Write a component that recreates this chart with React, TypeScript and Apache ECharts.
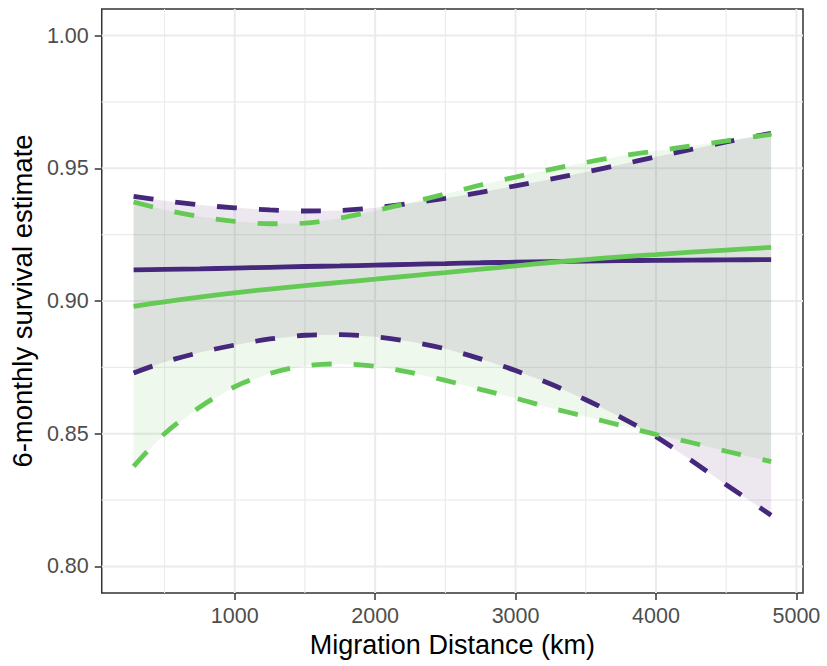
import React, { useEffect, useRef } from "react";
import * as echarts from "echarts";

// Migration distance (km) sample points
const DIST = [280, 500, 750, 1000, 1250, 1500, 1750, 2000, 2250, 2500, 2750, 3000, 3250, 3500, 3750, 4000, 4250, 4500, 4820];

// Purple group
const PURPLE_MEAN = [0.9117, 0.9119, 0.9121, 0.9124, 0.9127, 0.913, 0.9132, 0.9135, 0.9138, 0.9141, 0.9144, 0.9146, 0.9148, 0.915, 0.9152, 0.9153, 0.9154, 0.9155, 0.9156];
const PURPLE_UPPER = [0.9394, 0.9378, 0.9362, 0.9351, 0.9343, 0.9339, 0.9341, 0.9351, 0.9368, 0.9387, 0.9409, 0.9434, 0.9459, 0.9486, 0.9514, 0.9543, 0.9571, 0.9599, 0.9632];
const PURPLE_LOWER = [0.8729, 0.877, 0.8806, 0.8834, 0.8857, 0.8871, 0.8873, 0.8865, 0.8847, 0.882, 0.8782, 0.8738, 0.8687, 0.8628, 0.8562, 0.8489, 0.84, 0.8308, 0.8193];

// Green group
const GREEN_MEAN = [0.898, 0.8997, 0.9015, 0.9031, 0.9045, 0.9058, 0.907, 0.9082, 0.9095, 0.9107, 0.912, 0.9132, 0.9145, 0.9156, 0.9166, 0.9175, 0.9184, 0.9192, 0.9202];
const GREEN_UPPER = [0.9373, 0.9344, 0.9318, 0.93, 0.9291, 0.9293, 0.9312, 0.934, 0.9371, 0.9403, 0.9437, 0.9467, 0.9496, 0.9522, 0.9546, 0.9565, 0.9584, 0.9603, 0.9628];
const GREEN_LOWER = [0.8377, 0.85, 0.86, 0.8677, 0.8727, 0.8756, 0.8763, 0.8754, 0.8731, 0.8701, 0.8667, 0.8634, 0.8597, 0.8565, 0.8531, 0.8497, 0.8467, 0.8434, 0.8395];

// Axes
const X_MIN = 53;
const X_MAX = 5047;
const Y_MIN = 0.79;
const Y_MAX = 1.01;
const X_TICKS = [1000, 2000, 3000, 4000, 5000];
const X_MINOR = [500, 1500, 2500, 3500, 4500];
const Y_TICKS = [0.8, 0.85, 0.9, 0.95, 1.0];
const Y_MINOR = [0.825, 0.875, 0.925, 0.975];

const PURPLE = "#45277B";
const GREEN = "#64CA55";
const FONT = "Liberation Sans, Arial, Helvetica, sans-serif";

export default function App() {
  const ref = useRef<HTMLDivElement>(null);

  useEffect(() => {
    if (!ref.current) return;
    const chart = echarts.init(ref.current, null, { renderer: "svg" });

    const pairs = (ys: number[]) => DIST.map((x, i) => [x, ys[i]]);

    const vGrid = [
      ...X_TICKS.map((v) => [v, Y_MIN, 1]),
      ...X_MINOR.map((v) => [v, Y_MIN, 0]),
    ];
    const hGrid = [
      ...Y_TICKS.map((v) => [X_MIN, v, 1]),
      ...Y_MINOR.map((v) => [X_MIN, v, 0]),
    ];

    const ribbon = (lo: number[], hi: number[], fill: string, z: number) => ({
      type: "custom" as const,
      z,
      silent: true,
      data: DIST.map((x, i) => [x, lo[i], hi[i]]),
      renderItem: (params: any, api: any) => {
        if (params.dataIndex !== 0) return null;
        const pts: number[][] = [];
        for (let i = 0; i < DIST.length; i++) pts.push(api.coord([DIST[i], hi[i]]));
        for (let i = DIST.length - 1; i >= 0; i--) pts.push(api.coord([DIST[i], lo[i]]));
        return {
          type: "polygon",
          shape: { points: pts },
          style: { fill, stroke: "none" },
        };
      },
    });

    const dashed = (data: number[], color: string, z: number) => ({
      type: "line" as const,
      data: pairs(data),
      symbol: "none",
      smooth: 0.3,
      z,
      lineStyle: { color, width: 4.8, type: [20, 22], cap: "butt" },
    });

    const solid = (data: number[], color: string, z: number) => ({
      type: "line" as const,
      data: pairs(data),
      symbol: "none",
      smooth: 0.3,
      z,
      lineStyle: { color, width: 4.8, cap: "butt" },
    });

    chart.setOption({
      animation: false,
      backgroundColor: "#ffffff",
      grid: {
        left: 100,
        top: 9,
        right: 24,
        bottom: 73,
        show: true,
        borderColor: "#333333",
        borderWidth: 1.5,
        backgroundColor: "transparent",
      },
      xAxis: {
        type: "value",
        min: X_MIN,
        max: X_MAX,
        splitLine: { show: false },
        axisLine: { show: false },
        axisTick: {
          show: true,
          length: 7,
          customValues: X_TICKS,
          lineStyle: { color: "#333333", width: 1.5 },
        },
        axisLabel: {
          customValues: X_TICKS,
          color: "#4D4D4D",
          fontSize: 21.5,
          fontFamily: FONT,
          margin: 12,
          formatter: (v: number) => String(Math.round(v)),
        },
        name: "Migration Distance (km)",
        nameLocation: "middle",
        nameGap: 37,
        nameTextStyle: { fontSize: 27, color: "#000000", fontFamily: FONT },
      },
      yAxis: {
        type: "value",
        min: Y_MIN,
        max: Y_MAX,
        splitLine: { show: false },
        axisLine: { show: false },
        axisTick: {
          show: true,
          length: 7,
          customValues: Y_TICKS,
          lineStyle: { color: "#333333", width: 1.5 },
        },
        axisLabel: {
          customValues: Y_TICKS,
          color: "#4D4D4D",
          fontSize: 21.5,
          fontFamily: FONT,
          margin: 13,
          formatter: (v: number) => v.toFixed(2),
        },
        name: "6-monthly survival estimate",
        nameLocation: "middle",
        nameGap: 61,
        nameRotate: 90,
        nameTextStyle: { fontSize: 27.5, color: "#000000", fontFamily: FONT },
      },
      series: [
        {
          type: "custom",
          z: 0,
          silent: true,
          data: vGrid,
          renderItem: (_p: any, api: any) => {
            const x = api.value(0);
            const a = api.coord([x, Y_MIN]);
            const b = api.coord([x, Y_MAX]);
            return {
              type: "line",
              shape: { x1: a[0], y1: a[1], x2: b[0], y2: b[1] },
              style: { stroke: "#EBEBEB", lineWidth: api.value(2) ? 2 : 1.1 },
            };
          },
        },
        {
          type: "custom",
          z: 0,
          silent: true,
          data: hGrid,
          renderItem: (_p: any, api: any) => {
            const y = api.value(1);
            const a = api.coord([X_MIN, y]);
            const b = api.coord([X_MAX, y]);
            return {
              type: "line",
              shape: { x1: a[0], y1: a[1], x2: b[0], y2: b[1] },
              style: { stroke: "#EBEBEB", lineWidth: api.value(2) ? 2 : 1.1 },
            };
          },
        },
        ribbon(GREEN_LOWER, GREEN_UPPER, "rgba(85,185,65,0.1)", 1),
        ribbon(PURPLE_LOWER, PURPLE_UPPER, "rgba(75,30,100,0.1)", 2),
        dashed(PURPLE_UPPER, PURPLE, 3),
        dashed(PURPLE_LOWER, PURPLE, 3),
        solid(PURPLE_MEAN, PURPLE, 3),
        dashed(GREEN_UPPER, GREEN, 4),
        dashed(GREEN_LOWER, GREEN, 4),
        solid(GREEN_MEAN, GREEN, 4),
      ],
    });

    return () => chart.dispose();
  }, []);

  return (
    <div
      ref={ref}
      style={{ position: "absolute", left: 0, top: 0, width: 827, height: 666 }}
    />
  );
}
